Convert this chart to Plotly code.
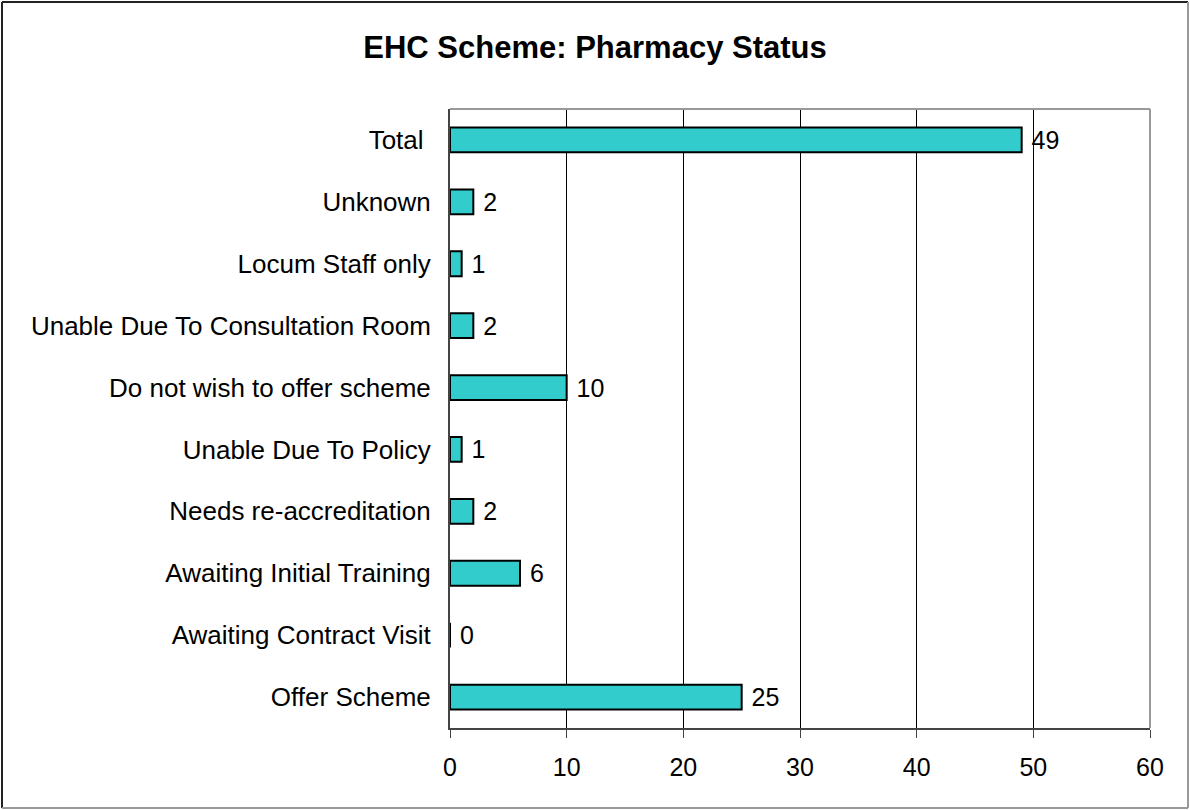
import plotly.graph_objects as go

categories = [
    "Offer Scheme",
    "Awaiting Contract Visit",
    "Awaiting Initial Training",
    "Needs re-accreditation",
    "Unable Due To Policy",
    "Do not wish to offer scheme",
    "Unable Due To Consultation Room",
    "Locum Staff only",
    "Unknown",
    "Total\u00a0",
]
values = [25, 0, 6, 2, 1, 10, 2, 1, 2, 49]
x_ticks = [0, 10, 20, 30, 40, 50, 60]
title_text = "EHC Scheme: Pharmacy Status"

FONT = "Arial, Liberation Sans, sans-serif"
W, H = 1190, 810
L, R, T, B = 450, 40, 109, 82
PW, PH = W - L - R, H - T - B


def px(x):
    return (x - L) / PW


def py(y):
    return (H - B - y) / PH


fig = go.Figure()
fig.add_trace(go.Bar(
    y=categories,
    x=values,
    orientation="h",
    width=0.4,
    marker=dict(color="#33CCCC", line=dict(color="#000000", width=2)),
    text=["\u00a0" + str(v) for v in values],
    textposition="outside",
    constraintext="none",
    textfont=dict(family=FONT, size=25, color="#000000"),
    cliponaxis=False,
    hoverinfo="skip",
))

shapes = [
    dict(type="line", xref="paper", yref="paper", x0=0, x1=1, y0=1, y1=1,
         line=dict(color="#999999", width=2)),
    dict(type="line", xref="paper", yref="paper", x0=1, x1=1, y0=0, y1=1,
         line=dict(color="#999999", width=2)),
    dict(type="line", xref="paper", yref="paper", x0=px(2), x1=px(1188), y0=py(2), y1=py(2),
         line=dict(color="#222222", width=2)),
    dict(type="line", xref="paper", yref="paper", x0=px(2), x1=px(2), y0=py(2), y1=py(808),
         line=dict(color="#222222", width=2)),
    dict(type="line", xref="paper", yref="paper", x0=px(2), x1=px(1188), y0=py(808), y1=py(808),
         line=dict(color="#999999", width=2)),
    dict(type="line", xref="paper", yref="paper", x0=px(1188), x1=px(1188), y0=py(2), y1=py(808),
         line=dict(color="#999999", width=2)),
]

n = len(categories)
fig.update_layout(
    width=W, height=H,
    margin=dict(l=L, r=R, t=T, b=B, pad=0),
    paper_bgcolor="white",
    plot_bgcolor="white",
    showlegend=False,
    title=dict(text="<b>" + title_text + "</b>", x=0.5, xanchor="center",
               y=1 - 47 / H, yanchor="middle", yref="container",
               font=dict(family=FONT, size=31, color="#000000")),
    xaxis=dict(range=[0, 60], tickvals=x_ticks, ticktext=[str(v) for v in x_ticks],
               showgrid=True, gridcolor="#000000", gridwidth=1,
               zeroline=False, showline=True, linecolor="#444444", linewidth=2,
               ticks="outside", ticklen=8, tickcolor="#444444", tickwidth=1,
               ticklabelstandoff=8,
               tickfont=dict(family=FONT, size=25, color="#000000"), fixedrange=True),
    yaxis=dict(type="category", range=[-0.5, n - 0.5], categoryorder="array",
               categoryarray=categories, showgrid=False, zeroline=False,
               showline=True, linecolor="#444444", linewidth=2, ticks="",
               ticklabelstandoff=12,
               tickfont=dict(family=FONT, size=26, color="#000000"), fixedrange=True),
    yaxis2=dict(overlaying="y", side="left", range=[-0.5, n - 0.5],
                tickvals=[i - 0.5 for i in range(n + 1)], showticklabels=False,
                ticks="outside", ticklen=8, tickcolor="#444444", tickwidth=1,
                showgrid=False, zeroline=False, showline=False, fixedrange=True),
    shapes=shapes,
    bargap=0.6,
)

fig.write_html("out.html", config={"displayModeBar": False},
               post_script="document.body.style.margin='0';")
